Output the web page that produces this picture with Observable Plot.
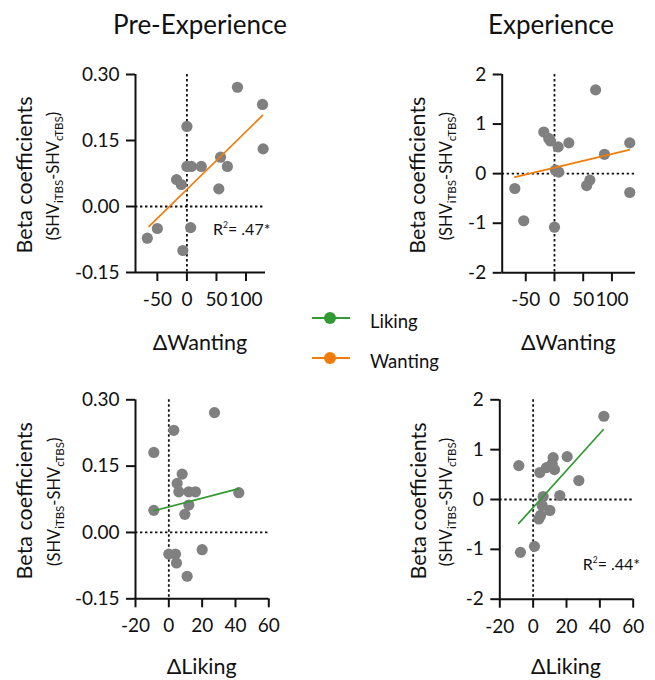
<!DOCTYPE html>
<html><head><meta charset="utf-8">
<script src="https://cdn.jsdelivr.net/npm/d3@7"></script>
<script src="https://cdn.jsdelivr.net/npm/@observablehq/plot@0.6"></script>
<style>
body{margin:0;background:#fff;}
#root{position:relative;width:655px;height:680px;overflow:hidden;font-family:Lato,sans-serif;background:#fff;}
#root svg{position:absolute;}
</style></head><body><div id="root"></div>
<script>
// ---- Data ----
const titles = ["Pre-Experience", "Experience"];
const legendLabels = ["Liking", "Wanting"];
const legendColors = ["#329a32", "#f07d0a"];
const yTitle = "Beta coefficients";

// Pre-Experience, ΔWanting
const preWantX = [-67, -50, -17.5, -9.5, -6.8, 0, 0, 7.5, 24.4, 6.3, 54, 57, 68.5, 85.5, 128, 129];
const preWantY = [-0.072, -0.05, 0.061, 0.05, -0.10, 0.182, 0.091, 0.091, 0.091, -0.048, 0.04, 0.112, 0.091, 0.271, 0.232, 0.131];
const preWantFitX = [-64, 128];
const preWantFitY = [-0.045, 0.207];

// Experience, ΔWanting
const expWantX = [-69, -53.5, -18.6, -10, -7, 1.7, 7.5, 6.4, 25, 0, 56, 61.6, 71.6, 87, 131, 131];
const expWantY = [-0.30, -0.95, 0.84, 0.71, 0.66, 0.07, 0.03, 0.54, 0.62, -1.08, -0.24, -0.13, 1.69, 0.39, 0.62, -0.38];
const expWantFitX = [-69, 130];
const expWantFitY = [-0.07, 0.48];

// Pre-Experience, ΔLiking
const preLikeX = [-9, 3, -9, 5, 6, 8, 12, 16, 12, 9.6, 42, 27.4, 0, 4, 4.6, 11, 20];
const preLikeY = [0.181, 0.231, 0.050, 0.111, 0.092, 0.132, 0.092, 0.092, 0.062, 0.041, 0.090, 0.271, -0.049, -0.049, -0.069, -0.099, -0.039];
const preLikeFitX = [-9, 42];
const preLikeFitY = [0.049, 0.099];

// Experience, ΔLiking
const expLikeX = [-8.6, 4, 8, 11.4, 12, 12.8, 20.4, 27.4, 16, 6, 5.4, 10, 4.4, 3.4, 0.8, -7.6, 42.4];
const expLikeY = [0.68, 0.54, 0.64, 0.72, 0.84, 0.60, 0.86, 0.38, 0.08, 0.06, -0.12, -0.22, -0.32, -0.39, -0.94, -1.06, 1.67];
const expLikeFitX = [-8.6, 42];
const expLikeFitY = [-0.48, 1.40];

const wantTicks = [-50, 0, 50, 100];
const likeTicks = [-20, 0, 20, 40, 60];
const betaTicksSmall = [-0.15, 0, 0.15, 0.30];
const betaTicksLarge = [-2, -1, 0, 1, 2];
const r2Labels = [".47*", ".44*"];

const root = document.getElementById("root");
const INK = "#111";

function panel(o) {
  const W = o.width, H = o.height;
  const ml = o.px[0] - o.left, mr = o.left + W - o.px[1];
  const mt = o.py[0] - o.top, mb = o.top + H - o.py[1];
  const pts = o.xs.map((x, i) => ({x, y: o.ys[i]}));
  const fit = o.fitX.map((x, i) => ({x, y: o.fitY[i]}));
  const dotted = {stroke: INK, strokeWidth: 1.8, strokeDasharray: "2.4,2.6"};
  const svg = Plot.plot({
    width: W, height: H,
    marginLeft: ml, marginRight: mr, marginTop: mt, marginBottom: mb,
    x: {domain: o.xDomain}, y: {domain: o.yDomain},
    style: {fontFamily: "Lato, sans-serif", fontSize: "19px", color: INK, background: "transparent", overflow: "visible"},
    marks: [
      Plot.ruleX([0], dotted),
      Plot.ruleY([0], dotted),
      Plot.dot(pts, {x: "x", y: "y", r: 5.6, fill: "#808080", stroke: "none"}),
      Plot.line(fit, {x: "x", y: "y", stroke: o.color, strokeWidth: 1.7}),
      Plot.ruleX([o.xDomain[0]], {stroke: INK, strokeWidth: 2}),
      Plot.ruleY([o.yDomain[0]], {stroke: INK, strokeWidth: 2}),
      Plot.axisX({ticks: o.xTicks, tickSize: 9, tickPadding: 11, tickFormat: d => String(d), label: null, strokeWidth: 2, stroke: INK}),
      Plot.axisY({ticks: o.yTicks, tickSize: 9, tickPadding: 7, tickFormat: o.yFmt, label: null, strokeWidth: 2, stroke: INK})
    ]
  });
  svg.style.left = o.left + "px";
  svg.style.top = o.top + "px";
  const g = d3.select(svg);
  const cy = (mt + H - mb) / 2 + 2;
  g.append("text")
    .attr("transform", `translate(${o.yl1x},${cy}) rotate(-90)`)
    .attr("text-anchor", "middle").attr("font-size", 21.5).attr("fill", INK)
    .attr("font-family", "Lato, sans-serif")
    .text(yTitle);
  const t2 = g.append("text")
    .attr("transform", `translate(${o.yl2x},${cy + 1}) rotate(-90)`)
    .attr("text-anchor", "middle").attr("font-size", 16.5).attr("fill", INK)
    .attr("font-family", "Lato, sans-serif");
  t2.append("tspan").text("(SHV");
  t2.append("tspan").attr("font-size", 11.5).attr("dy", 3.5).text("iTBS");
  t2.append("tspan").attr("dy", -3.5).text("-SHV");
  t2.append("tspan").attr("font-size", 11.5).attr("dy", 3.5).text("cTBS");
  t2.append("tspan").attr("dy", -3.5).text(")");
  g.append("text")
    .attr("x", (ml + W - mr) / 2).attr("y", o.xlY)
    .attr("text-anchor", "middle").attr("font-size", 21.5).attr("fill", INK)
    .attr("font-family", "Lato, sans-serif")
    .text(o.xLabel);
  if (o.r2) {
    const r = g.append("text").attr("x", o.r2[0]).attr("y", o.r2[1])
      .attr("text-anchor", "start")
      .attr("font-size", 16).attr("fill", INK).attr("font-family", "Lato, sans-serif");
    r.append("tspan").text("R");
    r.append("tspan").attr("font-size", 8.5).attr("dy", -7).text("2");
    r.append("tspan").attr("dy", 7).text("= " + o.r2[2]);
  }
  root.appendChild(svg);
}

const fmtSmall = d => d.toFixed(2);
const fmtLarge = d => String(d);

panel({left: 0, top: 40, width: 300, height: 320, px: [135, 265], py: [74, 272],
  xDomain: [-87, 133], yDomain: [-0.15, 0.30], xTicks: wantTicks, yTicks: betaTicksSmall, yFmt: fmtSmall,
  xs: preWantX, ys: preWantY, fitX: preWantFitX, fitY: preWantFitY, color: legendColors[1],
  xLabel: "\u0394Wanting", yl1x: 32, yl2x: 59, xlY: 310, r2: [213, 195, r2Labels[0]]});

panel({left: 340, top: 40, width: 315, height: 320, px: [501.7, 635], py: [74, 272.3],
  xDomain: [-91, 141], yDomain: [-2, 2], xTicks: wantTicks, yTicks: betaTicksLarge, yFmt: fmtLarge,
  xs: expWantX, ys: expWantY, fitX: expWantFitX, fitY: expWantFitY, color: legendColors[1],
  xLabel: "\u0394Wanting", yl1x: 85, yl2x: 112, xlY: 310, r2: null});

panel({left: 0, top: 370, width: 300, height: 310, px: [135, 268.3], py: [399.3, 598.3],
  xDomain: [-20, 60], yDomain: [-0.15, 0.30], xTicks: likeTicks, yTicks: betaTicksSmall, yFmt: fmtSmall,
  xs: preLikeX, ys: preLikeY, fitX: preLikeFitX, fitY: preLikeFitY, color: legendColors[0],
  xLabel: "\u0394Liking", yl1x: 32, yl2x: 60, xlY: 304, r2: null});

panel({left: 340, top: 370, width: 315, height: 310, px: [499.3, 632.7], py: [399.3, 598.7],
  xDomain: [-20, 60], yDomain: [-2, 2], xTicks: likeTicks, yTicks: betaTicksLarge, yFmt: fmtLarge,
  xs: expLikeX, ys: expLikeY, fitX: expLikeFitX, fitY: expLikeFitY, color: legendColors[0],
  xLabel: "\u0394Liking", yl1x: 86, yl2x: 112, xlY: 304, r2: [242.7, 200, r2Labels[1]]});

// Titles and legend overlay
const ov = d3.select(root).append("svg")
  .attr("width", 655).attr("height", 680)
  .style("left", "0px").style("top", "0px").style("pointer-events", "none")
  .attr("font-family", "Lato, sans-serif");
ov.append("text").attr("x", 200).attr("y", 34).attr("text-anchor", "middle")
  .attr("font-size", 26).attr("fill", INK).text(titles[0]);
ov.append("text").attr("x", 551).attr("y", 34).attr("text-anchor", "middle")
  .attr("font-size", 26).attr("fill", INK).text(titles[1]);
const legY = [318, 358];
legendLabels.forEach((lab, i) => {
  const y = legY[i];
  ov.append("line").attr("x1", 312).attr("x2", 350).attr("y1", y).attr("y2", y)
    .attr("stroke", legendColors[i]).attr("stroke-width", 1.8);
  ov.append("circle").attr("cx", 330).attr("cy", y).attr("r", 6).attr("fill", legendColors[i]);
  ov.append("text").attr("x", 370).attr("y", y + 10).attr("font-size", 18.5).attr("fill", INK).text(lab);
});
</script>
</body></html>
